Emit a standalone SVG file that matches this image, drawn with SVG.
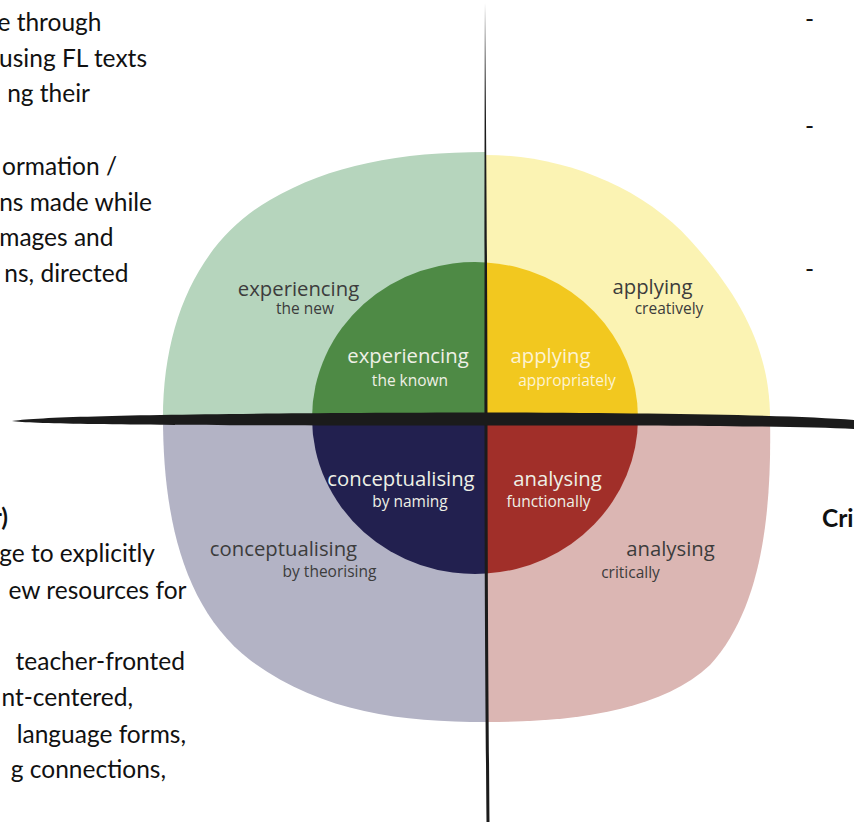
<svg xmlns="http://www.w3.org/2000/svg" width="854" height="823" viewBox="0 0 854 823">
  <style>
    .body { font-family: Lato, "Liberation Sans", sans-serif; font-size: 24.5px; fill: #111; }
    .end { text-anchor: end; }
    .bold { font-weight: bold; }
    .lbl { font-family: "Open Sans", "Liberation Sans", sans-serif; text-anchor: middle; }
    .main { font-size: 20.3px; }
    .sub { font-size: 15.5px; }
    .dark { fill: #3c3c3c; }
    .light { fill: #eef0e6; }
    .axis { fill: #1b1b1b; }
  </style>

  <rect width="854" height="823" fill="#ffffff"/>

  <!-- running text beside the model -->
  <g id="left-text" class="body end">
    <text x="101.5" y="31">e through</text>
    <text x="147" y="67">using FL texts</text>
    <text x="90" y="102">ng their</text>
    <text x="117" y="175">ormation /</text>
    <text x="152" y="211">ns made while</text>
    <text x="113.5" y="246">mages and</text>
    <text x="128.5" y="282">ns, directed</text>
    <text x="8" y="526" class="bold">r)</text>
    <text x="155" y="562">ge to explicitly</text>
    <text x="186.5" y="599">ew resources for</text>
    <text x="185" y="670">teacher-fronted</text>
    <text x="133" y="706">nt-centered,</text>
    <text x="186" y="743">language forms,</text>
    <text x="166" y="778">g connections,</text>
  </g>
  <g id="right-text" class="body">
    <text x="805" y="28">-</text>
    <text x="805" y="135">-</text>
    <text x="805" y="278">-</text>
    <text x="822" y="527" class="bold">Cri</text>
  </g>

  <!-- outer ring: four knowledge processes -->
  <g id="experiencing-new">
    <path d="M486,418 L163,418 C163,320 200,240 270,200 C330,165 400,152 486,152 Z" fill="#b6d5bd"/>
    <text class="lbl main dark" x="298.5" y="296">experiencing</text>
    <text class="lbl sub dark" x="305" y="314">the new</text>
  </g>
  <g id="applying-creatively">
    <path d="M486,418 L486,155 C560,155 640,185 690,240 C740,295 770,350 770,418 Z" fill="#fbf3b3"/>
    <text class="lbl main dark" x="652.5" y="294">applying</text>
    <text class="lbl sub dark" x="669" y="314">creatively</text>
  </g>
  <g id="conceptualising-theorising">
    <path d="M486,418 L163,418 C163,520 185,610 250,660 C320,712 400,722 486,722 Z" fill="#b3b3c5"/>
    <text class="lbl main dark" x="283.5" y="556">conceptualising</text>
    <text class="lbl sub dark" x="329.5" y="577">by theorising</text>
  </g>
  <g id="analysing-critically">
    <path d="M486,418 L770,418 C772,520 760,610 710,665 C660,712 570,722 486,722 Z" fill="#dbb6b3"/>
    <text class="lbl main dark" x="670.5" y="556">analysing</text>
    <text class="lbl sub dark" x="630.5" y="578">critically</text>
  </g>

  <!-- inner circle -->
  <g id="experiencing-known">
    <path d="M486,418 L312,418 A163,156 0 0 1 486,262.4 Z" fill="#4e8a45"/>
    <text class="lbl main light" x="408" y="363">experiencing</text>
    <text class="lbl sub light" x="410" y="386">the known</text>
  </g>
  <g id="applying-appropriately">
    <path d="M486,418 L486,262.4 A163,156 0 0 1 638,418 Z" fill="#f2c81f"/>
    <text class="lbl main" fill="#fdf3d2" x="550.5" y="363">applying</text>
    <text class="lbl sub" fill="#fdf3d2" x="567" y="386">appropriately</text>
  </g>
  <g id="conceptualising-naming">
    <path d="M486,418 L486,573.6 A163,156 0 0 1 312,418 Z" fill="#22204f"/>
    <text class="lbl main light" x="401" y="486">conceptualising</text>
    <text class="lbl sub light" x="410" y="507">by naming</text>
  </g>
  <g id="analysing-functionally">
    <path d="M486,418 L638,418 A163,156 0 0 1 486,573.6 Z" fill="#a12f29"/>
    <text class="lbl main light" x="557.5" y="486">analysing</text>
    <text class="lbl sub light" x="548.5" y="507">functionally</text>
  </g>

  <!-- brush-stroke axes -->
  <g id="connectors">
    <path class="axis" d="M485,3 C486,100 487.5,300 487.5,420 C487.5,600 489,750 489.5,822 L486.5,822 C485.5,700 484.5,600 484.5,420 C484.5,300 484.5,100 485,3 Z"/>
    <path class="axis" d="M12,421 C40,416 200,413 486,412.5 C650,413 790,415 854,420 L854,429 C790,426 650,425 486,425.5 C200,425.5 40,425 12,421 Z"/>
  </g>
</svg>
